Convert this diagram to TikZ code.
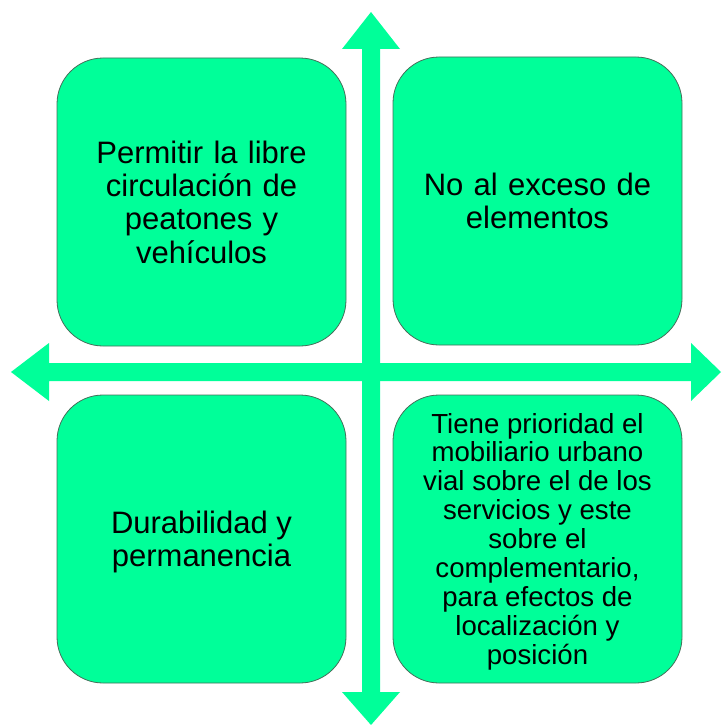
\documentclass[tikz,border=0pt]{standalone}
\usepackage{fontspec}
\setmainfont{Liberation Sans}
\definecolor{boxgreen}{RGB}{0,255,153}
\definecolor{arrowgreen}{RGB}{0,255,153}
\definecolor{boxline}{RGB}{70,110,90}
\tikzset{
  quad/.style={draw=boxline, line width=0.8pt, fill=boxgreen, rounded corners=46pt,
    minimum width=289pt, minimum height=288pt, inner sep=0pt, align=center,
    text width=270pt, font=\fontsize{31}{33.3}\selectfont},
  smalltext/.style={font=\fontsize{27.6}{28.9}\selectfont},
  bigarrow/.style={fill=arrowgreen, draw=none}
}
\begin{document}
\begin{tikzpicture}[x=1pt,y=-1pt]
\useasboundingbox (0,0) rectangle (721,725);
% vertical double arrow
\fill[bigarrow] (371,12) -- (400,49) -- (380,49) -- (380,692) -- (400,692) -- (371,725)
  -- (342,692) -- (362,692) -- (362,49) -- (342,49) -- cycle;
% horizontal double arrow
\fill[bigarrow] (11,372) -- (49,343) -- (49,363) -- (691,363) -- (691,343) -- (721,372)
  -- (691,401) -- (691,381) -- (49,381) -- (49,401) -- cycle;
\node[quad] (tl) at (201.5,202) {Permitir la libre\\circulación de\\peatones y\\vehículos};
\node[quad] (tr) at (537.5,201) {No al exceso de\\elementos};
\node[quad] (bl) at (201.5,539) {};
\node[font=\fontsize{31}{33.3}\selectfont, align=center] (blt) at (201.5,542) {Durabilidad y\\permanencia};
\node[quad] (br) at (537.5,539) {};
\node[smalltext, align=center] (brt) at (537.5,541.5) {Tiene prioridad el\\mobiliario urbano\\vial sobre el de los\\servicios y este\\sobre el\\complementario,\\para efectos de\\localización y\\posición};
\end{tikzpicture}
\end{document}
